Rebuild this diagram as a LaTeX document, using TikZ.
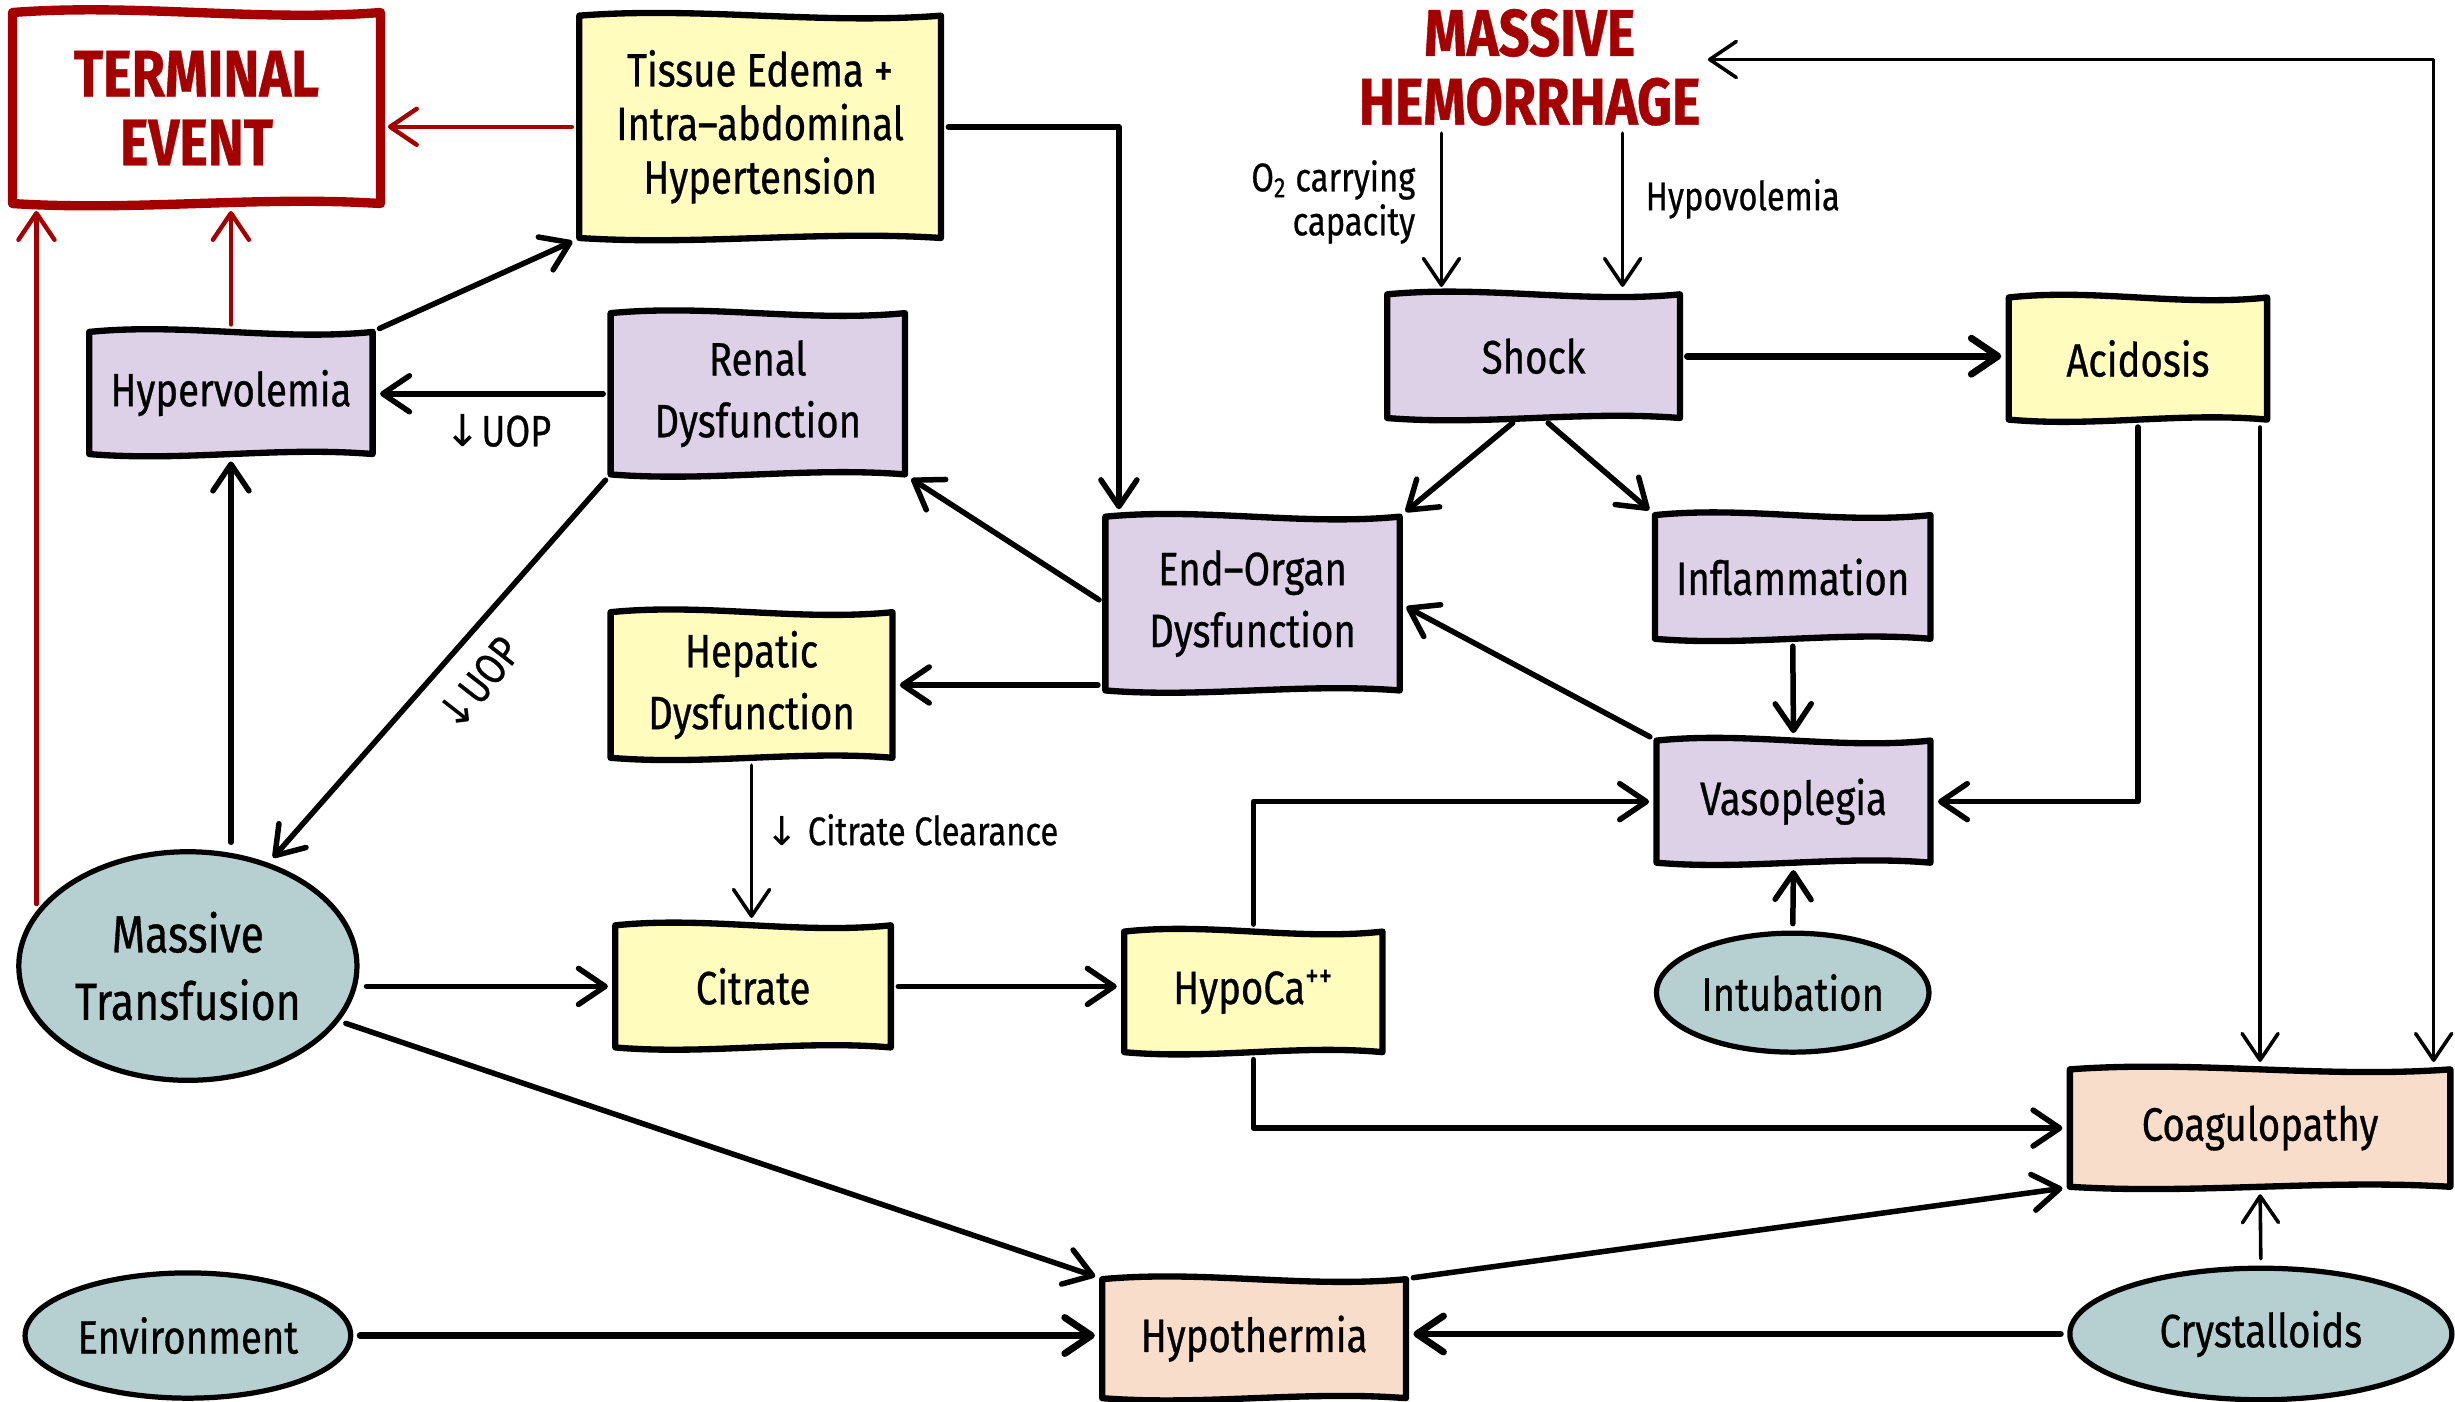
\documentclass[tikz,border=0pt]{standalone}
\usepackage{fontspec}
\setmainfont{Fira Sans}[FakeStretch=0.82,FakeBold=0.6]
\newfontfamily\arrowfont{DejaVu Sans}
\usetikzlibrary{arrows.meta,shapes.geometric,calc}
\definecolor{tred}{RGB}{165,0,0}
\definecolor{cyel}{RGB}{255,252,190}
\definecolor{clav}{RGB}{221,209,232}
\definecolor{cteal}{RGB}{182,208,210}
\definecolor{cpeach}{RGB}{249,221,203}
\tikzset{
  >={Straight Barb[length=3.4mm,width=4.6mm,round]},
  boxline/.style={line width=2.3pt, line join=round, line cap=round, draw=black},
  boxtext/.style={rectangle, inner sep=0pt, align=center, font=\fontsize{17}{22.5}\selectfont},
  titletext/.style={rectangle, inner sep=0pt, align=center, text=tred, font=\fontsize{24}{25}\selectfont\bfseries},
  ell/.style={ellipse, draw, line width=1.9pt, fill=cteal, inner sep=0pt, align=center, font=\fontsize{17}{22}\selectfont},
  lbl/.style={inner sep=1pt, font=\fontsize{14.5}{16}\selectfont},
  lbltwo/.style={inner sep=1pt, font=\fontsize{16}{18}\selectfont},
  arr/.style={->, line width=2pt, line cap=round, line join=round, shorten >=2.5pt, shorten <=2.5pt},
  thinarr/.style={arr, line width=1.3pt},
  thickarr/.style={arr, line width=2.5pt},
  redarr/.style={arr, draw=tred, line width=1.6pt},
}
% name, cx, cy, w, h, fill, border options, node style, text
\newcommand\wavybox[9]{%
  \path[boxline, fill=#6, #7] (#2-#4/2,#3-#5/2)
     .. controls +(#4/3,-6) and +(-#4/3,6) .. (#2+#4/2,#3-#5/2)
     -- (#2+#4/2,#3+#5/2)
     .. controls +(-#4/3,-5) and +(#4/3,5) .. (#2-#4/2,#3+#5/2) -- cycle;
  \node[#8, minimum width=#4*0.02cm, minimum height=#5*0.02cm] (#1) at (#2,#3) {#9};
}
\begin{document}
\begin{tikzpicture}[x=0.02cm,y=-0.02cm]
\useasboundingbox (0,0) rectangle (1568,895);

% boxes
\wavybox{terminal}{125.5}{69}{235}{122}{white}{draw=tred,line width=3.4pt}{titletext}{TERMINAL\\EVENT}
\wavybox{tissue}{485.5}{81}{231}{142}{cyel}{}{boxtext, font=\fontsize{17}{19.5}\selectfont}{Tissue Edema +\\Intra–abdominal\\Hypertension}
\wavybox{hyper}{147.5}{251}{181}{78}{clav}{}{boxtext}{Hypervolemia}
\wavybox{renal}{484}{251.5}{188}{103}{clav}{}{boxtext}{Renal\\Dysfunction}
\wavybox{shock}{979.5}{227.5}{187}{79}{clav}{}{boxtext}{Shock}
\wavybox{acid}{1365.5}{229}{165}{78}{cyel}{}{boxtext}{Acidosis}
\wavybox{endorgan}{800}{385.5}{188}{111}{clav}{}{boxtext}{End–Organ\\Dysfunction}
\wavybox{inflam}{1145}{368.5}{176}{79}{clav}{}{boxtext}{Inflammation}
\wavybox{hepatic}{480}{437.5}{180}{93}{cyel}{}{boxtext}{Hepatic\\Dysfunction}
\wavybox{vaso}{1145.5}{512}{175}{78}{clav}{}{boxtext}{Vasoplegia}
\wavybox{citrate}{481}{630}{176}{78}{cyel}{}{boxtext}{Citrate}
\wavybox{hypoca}{800.5}{633.5}{165}{77}{cyel}{}{boxtext}{HypoCa\textsuperscript{++}}
\wavybox{coag}{1443.5}{720.5}{243}{75}{cpeach}{}{boxtext}{Coagulopathy}
\wavybox{hypoth}{801}{855}{194}{76}{cpeach}{}{boxtext}{Hypothermia}

% ellipses
\node[ell, minimum width=216*0.02cm, minimum height=146*0.02cm, font=\fontsize{19}{24.5}\selectfont] (mt) at (120,617) {Massive\\Transfusion};
\node[ell, minimum width=174*0.02cm, minimum height=76*0.02cm] (intub) at (1145,634) {Intubation};
\node[ell, minimum width=208*0.02cm, minimum height=80*0.02cm] (env) at (120,853) {Environment};
\node[ell, minimum width=244*0.02cm, minimum height=84*0.02cm] (cryst) at (1444,852) {Crystalloids};

% title
\node[titletext] (hem) at (977,43) {MASSIVE\\HEMORRHAGE};

% labels
\node[lbl, anchor=east, align=right] (lo2) at (906,129) {O\textsubscript{2} carrying\\capacity};
\node[lbl, anchor=west] (lhypo) at (1049,127) {Hypovolemia};
\node[lbl, anchor=west] (lcc) at (487,530) {{\arrowfont ↓} Citrate Clearance};
\node[lbltwo] (luop1) at (318,275) {{\arrowfont ↓}UOP};
\node[lbltwo, rotate=52] (luop2) at (305,437) {{\arrowfont ↓}UOP};

% helper coordinates
\coordinate (o2c) at ($(shock.north west)+(35,0)$);
\coordinate (hypc) at ($(shock.north east)+(-37,0)$);
\coordinate (loopc) at ($(coag.north east)+(-11,0)$);
\coordinate (eoin) at ($(endorgan.north west)+(9,0)$);

% red connectors
\draw[redarr] (tissue.west) -- (tissue.west -| terminal.east);
\draw[redarr] (mt.160) -- (mt.160 |- terminal.south);
\draw[redarr] (hyper.north) -- (hyper.north |- terminal.south);

% black connectors
\draw[arr] (hyper.north east) -- (tissue.south west);
\draw[arr] (renal.west) -- (renal.west -| hyper.east);
\draw[arr] (renal.south west) -- (mt.52);
\draw[arr] (tissue.east) -| (eoin);
\draw[arr] (endorgan.west) -- (renal.south east);
\draw[arr] (hepatic.east -| endorgan.west) -- (hepatic.east);
\draw[arr] ($(shock.south)+(-10,0)$) -- (endorgan.north east);
\draw[arr] ($(shock.south)+(6,0)$) -- (inflam.north west);
\draw[thinarr] (hem.south -| o2c) -- (o2c);
\draw[thinarr] (hem.south -| hypc) -- (hypc);
\draw[thickarr] (shock.east) -- (shock.east -| acid.west);
\draw[arr] (acid.south) |- (vaso.east);
\draw[thinarr] (coag.north |- acid.south) -- (coag.north);
\draw[thinarr, <->] (loopc) |- ($(hem.east)+(0,-5)$);
\draw[arr] (inflam.south) -- (vaso.north);
\draw[arr] (vaso.north west) -- (endorgan.east);
\draw[arr] (intub.north) -- (vaso.south);
\draw[thinarr] (hepatic.south) -- (hepatic.south |- citrate.north);
\draw[arr] (mt.east |- citrate.west) -- (citrate.west);
\draw[arr] (citrate.east) -- (citrate.east -| hypoca.west);
\draw[arr] (hypoca.north) |- (vaso.west);
\draw[arr] (hypoca.south) |- (coag.west);
\draw[arr] (mt.-20) -- (hypoth.north west);
\draw[arr] (hypoth.north east) -- (coag.south west);
\draw[thinarr] (cryst.north) -- (coag.south);
\draw[thickarr] (env.east) -- (env.east -| hypoth.west);
\draw[thickarr] (cryst.west) -- (cryst.west -| hypoth.east);
\draw[arr] (mt.north -| hyper.south) -- (hyper.south);
\end{tikzpicture}
\end{document}
